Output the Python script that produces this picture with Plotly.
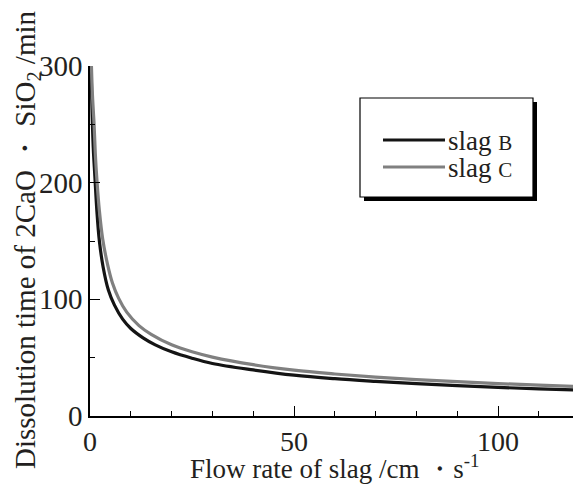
import plotly.graph_objects as go

# ---- data ----
flow_b = [0.25, 0.5, 0.8, 1.2, 1.7, 2.3, 3.2, 4.5, 6, 8, 10, 13, 16, 20, 25, 30, 40, 50, 60, 70, 80, 90, 100, 110, 120]
time_b = [300, 262, 230, 205, 175, 150, 128, 108, 95, 83, 75, 67, 61, 55, 49.5, 45, 39.5, 35, 32, 29.7, 27.7, 26, 24.5, 23.3, 22.3]

flow_c = [0.35, 0.6, 1.0, 1.3, 1.7, 2.3, 3.1, 4.3, 5.5, 7, 9, 12, 15, 20, 25, 30, 40, 50, 60, 70, 80, 90, 100, 110, 120]
time_c = [300, 275, 250, 225, 202, 176, 152, 130, 114, 101, 89, 77.5, 70, 61, 55, 50.5, 44, 39.3, 36, 33.3, 31.2, 29.4, 27.8, 26.4, 25.2]

series_names = ["slag B", "slag C"]
legend_labels = ["slag <span style='font-size:21px'>B</span>", "slag <span style='font-size:21px'>C</span>"]
series_colors = ["#141414", "#808080"]

x_tickvals = [0, 50, 100]
y_tickvals = [0, 100, 200, 300]

FONT = "Liberation Serif, Times New Roman, Times, serif"
INK = "#231f20"

W, H = 573, 484
L, R, T, B = 90, 0, 66, 68
pw, ph = W - L - R, H - T - B
x_max = (W - L) / 4.08

fig = go.Figure()
for xs, ys, name, col in zip([flow_b, flow_c], [time_b, time_c], series_names, series_colors):
    fig.add_trace(go.Scatter(x=xs, y=ys, mode="lines", name=name,
                             line=dict(color=col, width=3.2, shape="spline", smoothing=1),
                             showlegend=False))


def px(x):
    return (x - L) / pw


def py(y):
    return (H - B - y) / ph


shapes = [
    # legend shadow
    dict(type="rect", xref="paper", yref="paper", x0=px(364), x1=px(537), y0=py(201), y1=py(102),
         fillcolor="#000000", line=dict(width=0), layer="above"),
    # legend box
    dict(type="rect", xref="paper", yref="paper", x0=px(360), x1=px(533), y0=py(197), y1=py(98),
         fillcolor="#ffffff", line=dict(color="#000000", width=1.2), layer="above"),
]
annotations = []
rows_y = [140, 167]
for lab, col, yy in zip(legend_labels, series_colors, rows_y):
    shapes.append(dict(type="line", xref="paper", yref="paper", x0=px(383), x1=px(445), y0=py(yy), y1=py(yy),
                       line=dict(color=col, width=3.2), layer="above"))
    annotations.append(dict(xref="paper", yref="paper", x=px(446), y=py(yy + 1), xanchor="left", yanchor="middle",
                            text=lab, showarrow=False, font=dict(family=FONT, size=27, color=INK)))

# y-axis title
annotations.append(dict(xref="paper", yref="paper", x=px(27), y=py(240), xanchor="center", yanchor="middle",
                        textangle=-90, showarrow=False,
                        text="Dissolution time of 2CaO ・ SiO<sub>2</sub> /min",
                        font=dict(family=FONT, size=29, color=INK)))
# x-axis title
annotations.append(dict(xref="paper", yref="paper", x=px(334), y=py(467), xanchor="center", yanchor="middle",
                        showarrow=False,
                        text="Flow rate of slag /cm ・s<sup>-1</sup>",
                        font=dict(family=FONT, size=27, color=INK)))

fig.update_layout(
    width=W, height=H,
    margin=dict(l=L, r=R, t=T, b=B),
    paper_bgcolor="white", plot_bgcolor="white",
    showlegend=False,
    font=dict(family=FONT, color=INK),
    shapes=shapes, annotations=annotations,
)

fig.update_xaxes(
    range=[0, x_max], showgrid=False, zeroline=False,
    showline=True, linecolor="#000000", linewidth=1.5, mirror=False,
    ticks="inside", ticklen=10, tickwidth=1.2, tickcolor="#000000",
    tickvals=x_tickvals, ticktext=[str(v) for v in x_tickvals],
    tickfont=dict(family=FONT, size=28, color=INK),
    minor=dict(dtick=10, tick0=0, ticks="inside", ticklen=5, tickwidth=1.2, tickcolor="#000000"),
)
fig.update_layout(xaxis2=dict(
    overlaying="x", side="top", range=[0, x_max], showgrid=False, zeroline=False,
    showline=True, linecolor="#000000", linewidth=1.5,
    ticks="inside", ticklen=10, tickwidth=1.2, tickcolor="#000000",
    tickvals=x_tickvals, showticklabels=False,
    minor=dict(dtick=10, tick0=0, ticks="inside", ticklen=5, tickwidth=1.2, tickcolor="#000000"),
))
fig.update_yaxes(
    range=[0, 300], showgrid=False, zeroline=False,
    showline=True, linecolor="#000000", linewidth=1.5, mirror=False,
    ticks="inside", ticklen=10, tickwidth=1.2, tickcolor="#000000",
    tickvals=y_tickvals, ticktext=[str(v) for v in y_tickvals],
    tickfont=dict(family=FONT, size=29, color=INK),
    minor=dict(dtick=50, tick0=0, ticks="inside", ticklen=5, tickwidth=1.2, tickcolor="#000000"),
)

fig.write_html("out.html")
